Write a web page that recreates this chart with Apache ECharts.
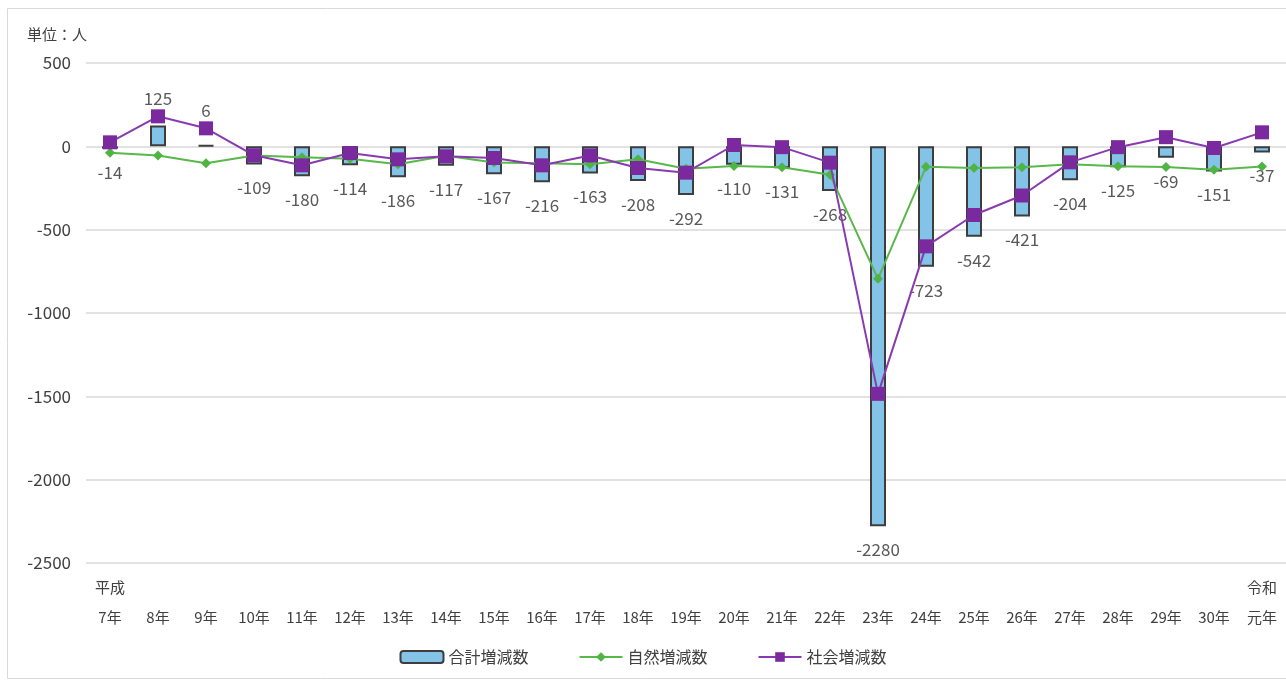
<!DOCTYPE html>
<html>
<head>
<meta charset="utf-8">
<script src="https://cdn.jsdelivr.net/npm/echarts@6/dist/echarts.min.js"></script>
<style>
html,body{margin:0;padding:0;background:#fff;}
#chart{width:1286px;height:684px;}
</style>
</head>
<body>
<div id="chart"></div>
<script>
const categories = ['7年','8年','9年','10年','11年','12年','13年','14年','15年','16年','17年','18年','19年','20年','21年','22年','23年','24年','25年','26年','27年','28年','29年','30年','元年'];
const eraLabels = ['平成','','','','','','','','','','','','','','','','','','','','','','','','令和'];
const totalChange = [-14,125,6,-109,-180,-114,-186,-117,-167,-216,-163,-208,-292,-110,-131,-268,-2280,-723,-542,-421,-204,-125,-69,-151,-37];
const naturalChange = [-38,-55,-102,-55,-66,-74,-108,-57,-97,-102,-108,-78,-134,-118,-126,-170,-795,-123,-130,-126,-108,-120,-124,-141,-121];
const socialChange = [24,180,108,-54,-114,-40,-78,-60,-70,-114,-55,-130,-158,8,-5,-98,-1485,-600,-412,-295,-96,-5,55,-10,84];
const yTicks = {min: -2500, max: 500, interval: 500};
const unitText = '単位：人';
const seriesNames = ['合計増減数','自然増減数','社会増減数'];

const FONT = '"Noto Sans CJK JP", "Noto Sans", sans-serif';
const chart = echarts.init(document.getElementById('chart'));

const barData = totalChange.map(v => ({
  value: v,
  label: v >= 0 ? {position: 'top', distance: v < 50 ? 26 : 18} : {position: 'bottom', distance: 15}
}));

chart.setOption({
  animation: false,
  backgroundColor: '#fff',
  textStyle: {fontFamily: FONT},
  graphic: [
    {type: 'rect', shape: {x: 7.5, y: 8.5, width: 1300, height: 670}, style: {fill: 'none', stroke: '#d9d9d9', lineWidth: 1}, z: -10},
    {type: 'text', left: 27, top: 27, style: {text: unitText, font: '15px ' + FONT, fill: '#404040'}}
  ],
  grid: {left: 86, right: 0, top: 63, bottom: 121, containLabel: false},
  legend: {
    bottom: 14,
    left: 'center',
    itemWidth: 43,
    itemHeight: 12,
    itemGap: 50,
    selectedMode: false,
    textStyle: {fontSize: 16, color: '#404040', fontFamily: FONT},
    data: seriesNames
  },
  xAxis: {
    type: 'category',
    data: categories,
    axisLine: {show: false, onZero: false},
    axisTick: {show: false},
    splitLine: {show: false},
    axisLabel: {
      interval: 0,
      margin: 9,
      fontSize: 15,
      lineHeight: 30,
      color: '#404040',
      formatter: (v, i) => (eraLabels[i] || ' ') + '\n' + v
    }
  },
  yAxis: {
    type: 'value',
    min: yTicks.min,
    max: yTicks.max,
    interval: yTicks.interval,
    axisLine: {show: false},
    axisTick: {show: false},
    axisLabel: {fontSize: 17, color: '#404040', margin: 15, formatter: v => String(v)},
    splitLine: {lineStyle: {color: '#d9d9d9', width: 1.5}}
  },
  series: [
    {
      name: seriesNames[0],
      type: 'bar',
      data: barData,
      barWidth: 16,
      itemStyle: {color: '#84c3e8', borderColor: '#3d3d3d', borderWidth: 2},
      label: {show: true, fontSize: 17, color: '#595959', fontFamily: FONT},
      z: 2
    },
    {
      name: seriesNames[1],
      type: 'line',
      data: naturalChange,
      symbol: 'diamond',
      symbolSize: 10,
      lineStyle: {color: '#58b84a', width: 2},
      itemStyle: {color: '#4fb443'},
      z: 3
    },
    {
      name: seriesNames[2],
      type: 'line',
      data: socialChange,
      symbol: 'rect',
      symbolSize: 14,
      lineStyle: {color: '#8a3ab0', width: 2},
      itemStyle: {color: '#7a2a9e'},
      z: 4
    }
  ]
});
</script>
</body>
</html>
